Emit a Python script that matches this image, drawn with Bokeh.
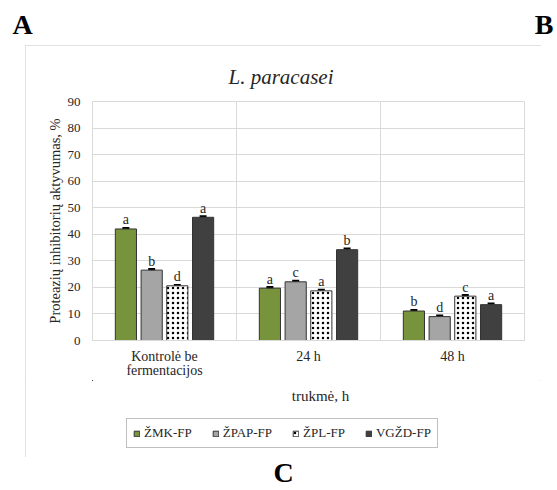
from bokeh.plotting import figure
from bokeh.models import (ColumnDataSource, FixedTicker, Label, Legend, LegendItem,
                          Whisker, TeeHead, Range1d, Title, Spacer)
from bokeh.layouts import column, row
from bokeh.core.properties import value
from bokeh.embed import file_html
from bokeh.resources import INLINE

# ---- data ----
categories = ["Kontrolė be\nfermentacijos", "24 h", "48 h"]
series = ["ŽMK-FP", "ŽPAP-FP", "ŽPL-FP", "VGŽD-FP"]
zmk = [42.0, 19.7, 11.1]
zpap = [26.5, 22.1, 9.0]
zpl = [20.6, 18.7, 16.7]
vgzd = [46.4, 34.2, 13.5]
err_zmk = [0.4, 0.4, 0.4]
err_zpap = [0.4, 0.4, 0.4]
err_zpl = [0.3, 0.4, 0.4]
err_vgzd = [0.4, 0.4, 0.4]
letters_zmk = ["a", "a", "b"]
letters_zpap = ["b", "c", "d"]
letters_zpl = ["d", "a", "c"]
letters_vgzd = ["a", "b", "a"]
y_ticks = [0, 10, 20, 30, 40, 50, 60, 70, 80, 90]
title_text = "L. paracasei"
x_title = "trukmė, h"
y_title = "Proteazių inhibitorių aktyvumas, %"
panel_top_left = "A"
panel_top_right = "B"
panel_bottom = "C"

FONT = "Liberation Serif"
TXT = "#262626"
W, H = 557, 490
CL, CR, CT, CB = 25, 541, 45, 457      # chart area box (page px)
FL, FR, FT, FB = 92, 524, 101, 342     # plot frame (page px)
SPLIT = 380                             # main figure / legend strip boundary
CW = CR - CL

fills = ["#77933C", "#A5A5A5", "white", "#404040"]
hatch = [None, None, "dot", None]


def bar_style(k):
    kw = dict(fill_color=fills[k], line_color="#333333", line_width=1)
    if hatch[k]:
        kw.update(hatch_pattern=hatch[k], hatch_color="black", hatch_scale=5, hatch_weight=3)
    return kw


# ---------------- main chart ----------------
p = figure(width=CW, height=SPLIT - CT, output_backend="svg", toolbar_location=None,
           x_range=Range1d(0, 3), y_range=Range1d(0, 90),
           min_border_left=FL - CL, min_border_right=CR - FR,
           min_border_top=FT - CT, min_border_bottom=SPLIT - FB,
           background_fill_color="white", border_fill_color="white")
p.outline_line_color = "#d9d9d9"

p.xgrid.ticker = FixedTicker(ticks=[0, 1, 2, 3])
p.xgrid.grid_line_color = "#d9d9d9"
p.ygrid.ticker = FixedTicker(ticks=y_ticks)
p.ygrid.grid_line_color = "#d9d9d9"

centers = [i + 0.5 for i in range(len(categories))]
p.xaxis.ticker = FixedTicker(ticks=centers)
p.xaxis.major_label_overrides = {c: lab for c, lab in zip(centers, categories)}
p.xaxis.axis_line_color = "#d9d9d9"
p.xaxis.major_tick_line_color = None
p.xaxis.minor_tick_line_color = None
p.xaxis.major_tick_out = 0
p.xaxis.major_tick_in = 0
p.xaxis.major_label_text_font = "Times"
p.xaxis.major_label_text_font_size = "14px"
p.xaxis.major_label_text_color = TXT
p.xaxis.major_label_text_line_height = 0.95
p.xaxis.major_label_standoff = 8

p.yaxis.ticker = FixedTicker(ticks=y_ticks)
p.yaxis.axis_line_color = None
p.yaxis.major_tick_line_color = None
p.yaxis.minor_tick_line_color = None
p.yaxis.major_tick_out = 0
p.yaxis.major_tick_in = 0
p.yaxis.major_label_text_font = FONT
p.yaxis.major_label_text_font_size = "13px"
p.yaxis.major_label_text_color = TXT
p.yaxis.major_label_standoff = 12
p.yaxis.axis_label = y_title
p.yaxis.axis_label_text_font = FONT
p.yaxis.axis_label_text_font_style = "normal"
p.yaxis.axis_label_text_font_size = "14.5px"
p.yaxis.axis_label_text_color = TXT
p.yaxis.axis_label_standoff = 2

offsets = [-0.268, -0.089, 0.089, 0.268]
bw = 0.147
vals = [zmk, zpap, zpl, vgzd]
errs = [err_zmk, err_zpap, err_zpl, err_vgzd]
lets = [letters_zmk, letters_zpap, letters_zpl, letters_vgzd]
sources = []
for k in range(4):
    xs = [c + offsets[k] for c in centers]
    src = ColumnDataSource(dict(x=xs, top=vals[k],
                                upper=[v + e for v, e in zip(vals[k], errs[k])],
                                lower=[v - e for v, e in zip(vals[k], errs[k])],
                                lab=lets[k]))
    sources.append(src)
    p.vbar(x="x", top="top", width=bw, bottom=0, source=src, **bar_style(k))
    p.add_layout(Whisker(base="x", upper="upper", lower="lower", source=src,
                         dimension="height", line_color="black", line_width=1.5,
                         upper_head=TeeHead(size=7, line_width=2, line_color="black"),
                         lower_head=TeeHead(size=7, line_width=2, line_color="black")))
    p.text(x="x", y="upper", text="lab", source=src, text_align="center",
           text_baseline="alphabetic", y_offset=-8, text_font=value(FONT),
           text_font_size="14px", text_color=TXT)

p.add_layout(Title(text=title_text, align="left", offset=136, standoff=25,
                   text_font=FONT, text_font_style="italic", text_font_size="21px",
                   text_color=TXT), "above")


# ---------------- strips ----------------
def strip(width, height, xr=(0, 3), yr=(0, 1)):
    f = figure(width=width, height=height, output_backend="svg", toolbar_location=None,
               x_range=Range1d(*xr), y_range=Range1d(*yr),
               min_border=0, background_fill_color="white", border_fill_color="white")
    f.axis.visible = False
    f.grid.visible = False
    f.outline_line_color = None
    return f


# legend + x title strip inside the chart box (its frame is aligned with the main frame)
lh = CB - SPLIT
# legend carrier bars share the data but lie outside this strip's ranges
ls = strip(CW, lh, xr=(5, 6), yr=(-6, -5))
ls.add_layout(Label(x=320 - FL, y=lh - (395 - SPLIT), x_units="screen", y_units="screen",
                    text=x_title, text_font=FONT, text_font_size="15px",
                    text_align="center", text_baseline="middle", text_color=TXT))
carriers = []
for k in range(4):
    carriers.append(ls.vbar(x="x", top="top", width=bw, bottom=0, source=sources[k],
                            **bar_style(k)))
legend = Legend(items=[LegendItem(label=s, renderers=[r]) for s, r in zip(series, carriers)],
                orientation="horizontal", location=(126 - FL, CB - 448),
                label_text_font=FONT, label_text_font_size="13px",
                label_text_color=TXT, glyph_width=7, glyph_height=7,
                label_standoff=4, spacing=20, padding=6, margin=0,
                label_height=13, border_line_color="#7f7f7f", border_line_width=1,
                background_fill_color="white", background_fill_alpha=1)
ls.add_layout(legend, "center")

chart = column(p, ls, styles={"outline": "1px solid #d9d9d9", "outline-offset": "-1px"})

top = strip(W, CT)
for t, X, al in [(panel_top_left, 12, "left"), (panel_top_right, 553, "right")]:
    top.add_layout(Label(x=X, y=CT - 24, x_units="screen", y_units="screen", text=t,
                         text_font=FONT, text_font_style="bold", text_font_size="28px",
                         text_align=al, text_baseline="middle", text_color="black"))

bottom = strip(W, H - CB)
bottom.add_layout(Label(x=283, y=(H - CB) - 15, x_units="screen", y_units="screen",
                        text=panel_bottom, text_font=FONT, text_font_style="bold",
                        text_font_size="28px", text_align="center",
                        text_baseline="middle", text_color="black"))

layout = column(top,
                row(Spacer(width=CL, height=CB - CT), chart, Spacer(width=W - CR, height=CB - CT)),
                bottom)

open("out.html", "w").write(file_html(layout, INLINE))
